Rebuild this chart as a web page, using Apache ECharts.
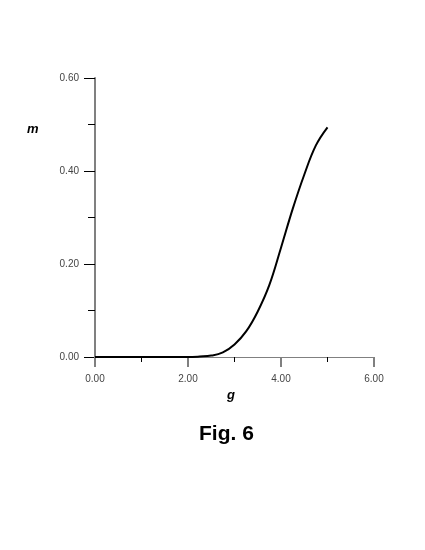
<!DOCTYPE html>
<html>
<head>
<meta charset="utf-8">
<script src="https://cdn.jsdelivr.net/npm/echarts@6/dist/echarts.min.js"></script>
<style>
  html, body { margin: 0; padding: 0; background: #fff; }
  #main { width: 425px; height: 550px; }
</style>
</head>
<body>
<div id="main"></div>
<script>
// curve (g, m)
var gValues = [0, 0.5, 1.0, 1.5, 2.0, 2.25, 2.5, 2.75, 3.0, 3.25, 3.5, 3.75, 4.0, 4.25, 4.5, 4.75, 5.0];
var mValues = [0, 0, 0, 0, 0, 0.001, 0.003, 0.010, 0.027, 0.055, 0.098, 0.155, 0.235, 0.318, 0.392, 0.455, 0.494];

var xTicks = [0, 2, 4, 6];
var yTicks = [0, 0.2, 0.4, 0.6];

var points = [];
for (var i = 0; i < gValues.length; i++) {
  points.push([gValues[i], mValues[i]]);
}

var labelFont = { fontFamily: 'Liberation Sans, Arial', fontSize: 10, color: '#444' };

var option = {
  backgroundColor: '#fff',
  animation: false,
  grid: { left: 95, right: 51, top: 78, bottom: 193 },
  xAxis: {
    type: 'value',
    min: xTicks[0],
    max: xTicks[xTicks.length - 1],
    interval: 2,
    axisLine: { lineStyle: { color: '#808080', width: 1 } },
    axisTick: { show: true, length: 10, lineStyle: { color: '#808080', width: 2 } },
    minorTick: { show: true, splitNumber: 2, length: 5, lineStyle: { color: '#000', width: 1 } },
    splitLine: { show: false },
    axisLabel: Object.assign({ margin: 17, formatter: function (v) { return v.toFixed(2); } }, labelFont)
  },
  yAxis: {
    type: 'value',
    min: yTicks[0],
    max: yTicks[yTicks.length - 1],
    interval: 0.2,
    axisLine: { show: true, lineStyle: { color: '#808080', width: 2 } },
    axisTick: { show: true, length: 11, lineStyle: { color: '#000', width: 1 } },
    minorTick: { show: true, splitNumber: 2, length: 7, lineStyle: { color: '#000', width: 1 } },
    splitLine: { show: false },
    axisLabel: Object.assign({ margin: 16, formatter: function (v) { return v.toFixed(2); } }, labelFont)
  },
  graphic: [
    { type: 'text', left: 27, top: 123,
      style: { text: 'm', font: 'italic bold 13px Liberation Sans, Arial', fill: '#000' } },
    { type: 'text', left: 227, top: 389,
      style: { text: 'g', font: 'italic bold 13px Liberation Sans, Arial', fill: '#000' } },
    { type: 'text', left: 199, top: 424,
      style: { text: 'Fig. 6', font: 'bold 21px Liberation Sans, Arial', fill: '#000' } }
  ],
  series: [
    {
      type: 'line',
      data: points,
      smooth: 0.4,
      showSymbol: false,
      lineStyle: { color: '#000', width: 2 }
    }
  ]
};

var myChart = echarts.init(document.getElementById('main'));
myChart.setOption(option);
</script>
</body>
</html>
